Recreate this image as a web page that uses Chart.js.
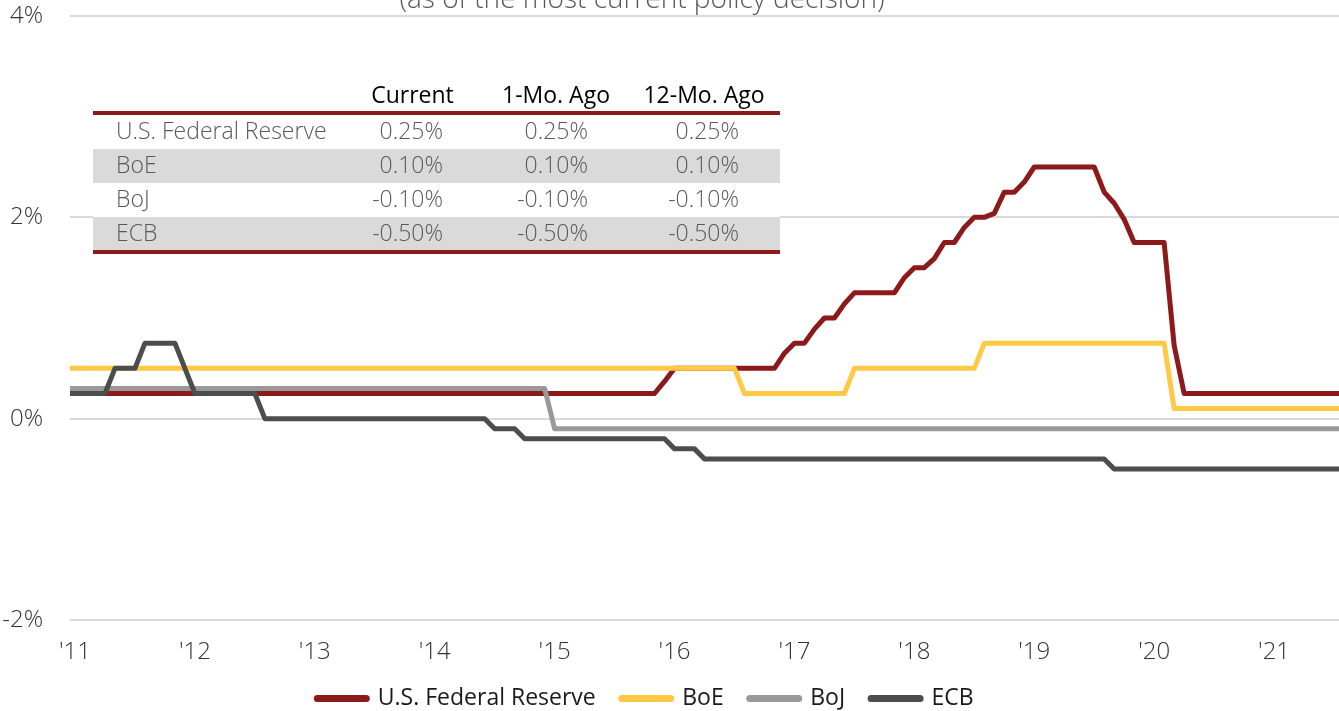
<!DOCTYPE html>
<html>
<head>
<meta charset="utf-8">
<script src="https://cdn.jsdelivr.net/npm/chart.js@4.4.1/dist/chart.umd.min.js"></script>
<style>
html,body{margin:0;padding:0;background:#fff;}
#wrap{position:relative;width:1339px;height:711px;overflow:hidden;font-family:"Open Sans",sans-serif;}
#c{position:absolute;left:0;top:0;}
#title{position:absolute;left:0;width:1284px;top:-20px;text-align:center;font-size:28px;line-height:34px;color:#595959;font-weight:300;white-space:nowrap;}
#tbl{position:absolute;left:93px;top:80px;width:687px;background:#fff;}
.r{display:grid;grid-template-columns:267px 105px 155px 160px;height:34px;align-items:center;font-size:23px;line-height:26px;color:#595959;font-weight:300;white-space:nowrap;}
.r > div{position:relative;top:-2px;}
.r.h{height:31px;color:#000;font-weight:400;align-items:end;}
.r.h > div{top:-4px;}
.r.g{background:#dadadb;}
.r.last{height:33px;}
.r .c0{padding-left:23px;}
.r .c1{text-align:right;padding-right:22px;}
.r .c2{text-align:right;padding-right:32px;}
.r .c3{text-align:right;padding-right:41px;}
.r.h .c1{text-align:center;padding-right:0;}
.r.h .c2{text-align:center;padding:0 0 0 27px;}
.r.h .c3{text-align:center;padding:0 0 0 8px;}
.rule{height:4px;background:#8c1a1a;}
</style>
</head>
<body>
<div id="wrap">
  <canvas id="c" width="1339" height="711"></canvas>
  <div id="title">(as of the most current policy decision)</div>
  <div id="tbl"></div>
</div>
<script>
// ---- Monthly categories (Dec 2010 .. Aug 2021) ----
const months = [
 '2010-12',
 '2011-01','2011-02','2011-03','2011-04','2011-05','2011-06','2011-07','2011-08','2011-09','2011-10','2011-11','2011-12',
 '2012-01','2012-02','2012-03','2012-04','2012-05','2012-06','2012-07','2012-08','2012-09','2012-10','2012-11','2012-12',
 '2013-01','2013-02','2013-03','2013-04','2013-05','2013-06','2013-07','2013-08','2013-09','2013-10','2013-11','2013-12',
 '2014-01','2014-02','2014-03','2014-04','2014-05','2014-06','2014-07','2014-08','2014-09','2014-10','2014-11','2014-12',
 '2015-01','2015-02','2015-03','2015-04','2015-05','2015-06','2015-07','2015-08','2015-09','2015-10','2015-11','2015-12',
 '2016-01','2016-02','2016-03','2016-04','2016-05','2016-06','2016-07','2016-08','2016-09','2016-10','2016-11','2016-12',
 '2017-01','2017-02','2017-03','2017-04','2017-05','2017-06','2017-07','2017-08','2017-09','2017-10','2017-11','2017-12',
 '2018-01','2018-02','2018-03','2018-04','2018-05','2018-06','2018-07','2018-08','2018-09','2018-10','2018-11','2018-12',
 '2019-01','2019-02','2019-03','2019-04','2019-05','2019-06','2019-07','2019-08','2019-09','2019-10','2019-11','2019-12',
 '2020-01','2020-02','2020-03','2020-04','2020-05','2020-06','2020-07','2020-08','2020-09','2020-10','2020-11','2020-12',
 '2021-01','2021-02','2021-03','2021-04','2021-05','2021-06','2021-07','2021-08'
];

// ---- Series values (%) ----
const fedRate = [
 0.25,
 0.25,0.25,0.25,0.25,0.25,0.25,0.25,0.25,0.25,0.25,0.25,0.25,
 0.25,0.25,0.25,0.25,0.25,0.25,0.25,0.25,0.25,0.25,0.25,0.25,
 0.25,0.25,0.25,0.25,0.25,0.25,0.25,0.25,0.25,0.25,0.25,0.25,
 0.25,0.25,0.25,0.25,0.25,0.25,0.25,0.25,0.25,0.25,0.25,0.25,
 0.25,0.25,0.25,0.25,0.25,0.25,0.25,0.25,0.25,0.25,0.25,0.37,
 0.50,0.50,0.50,0.50,0.50,0.50,0.50,0.50,0.50,0.50,0.50,0.65,
 0.75,0.75,0.89,1.00,1.00,1.14,1.25,1.25,1.25,1.25,1.25,1.40,
 1.50,1.50,1.59,1.75,1.75,1.90,2.00,2.00,2.04,2.25,2.25,2.35,
 2.50,2.50,2.50,2.50,2.50,2.50,2.50,2.25,2.14,1.98,1.75,1.75,
 1.75,1.75,0.73,0.25,0.25,0.25,0.25,0.25,0.25,0.25,0.25,0.25,
 0.25,0.25,0.25,0.25,0.25,0.25,0.25,0.25
];
const boeRate = [
 0.50,
 0.50,0.50,0.50,0.50,0.50,0.50,0.50,0.50,0.50,0.50,0.50,0.50,
 0.50,0.50,0.50,0.50,0.50,0.50,0.50,0.50,0.50,0.50,0.50,0.50,
 0.50,0.50,0.50,0.50,0.50,0.50,0.50,0.50,0.50,0.50,0.50,0.50,
 0.50,0.50,0.50,0.50,0.50,0.50,0.50,0.50,0.50,0.50,0.50,0.50,
 0.50,0.50,0.50,0.50,0.50,0.50,0.50,0.50,0.50,0.50,0.50,0.50,
 0.50,0.50,0.50,0.50,0.50,0.50,0.50,0.25,0.25,0.25,0.25,0.25,
 0.25,0.25,0.25,0.25,0.25,0.25,0.50,0.50,0.50,0.50,0.50,0.50,
 0.50,0.50,0.50,0.50,0.50,0.50,0.50,0.75,0.75,0.75,0.75,0.75,
 0.75,0.75,0.75,0.75,0.75,0.75,0.75,0.75,0.75,0.75,0.75,0.75,
 0.75,0.75,0.10,0.10,0.10,0.10,0.10,0.10,0.10,0.10,0.10,0.10,
 0.10,0.10,0.10,0.10,0.10,0.10,0.10,0.10
];
const bojRate = [
 0.30,
 0.30,0.30,0.30,0.30,0.30,0.30,0.30,0.30,0.30,0.30,0.30,0.30,
 0.30,0.30,0.30,0.30,0.30,0.30,0.30,0.30,0.30,0.30,0.30,0.30,
 0.30,0.30,0.30,0.30,0.30,0.30,0.30,0.30,0.30,0.30,0.30,0.30,
 0.30,0.30,0.30,0.30,0.30,0.30,0.30,0.30,0.30,0.30,0.30,0.30,
 -0.10,-0.10,-0.10,-0.10,-0.10,-0.10,-0.10,-0.10,-0.10,-0.10,-0.10,-0.10,
 -0.10,-0.10,-0.10,-0.10,-0.10,-0.10,-0.10,-0.10,-0.10,-0.10,-0.10,-0.10,
 -0.10,-0.10,-0.10,-0.10,-0.10,-0.10,-0.10,-0.10,-0.10,-0.10,-0.10,-0.10,
 -0.10,-0.10,-0.10,-0.10,-0.10,-0.10,-0.10,-0.10,-0.10,-0.10,-0.10,-0.10,
 -0.10,-0.10,-0.10,-0.10,-0.10,-0.10,-0.10,-0.10,-0.10,-0.10,-0.10,-0.10,
 -0.10,-0.10,-0.10,-0.10,-0.10,-0.10,-0.10,-0.10,-0.10,-0.10,-0.10,-0.10,
 -0.10,-0.10,-0.10,-0.10,-0.10,-0.10,-0.10,-0.10
];
const ecbRate = [
 0.25,
 0.25,0.25,0.25,0.25,0.50,0.50,0.50,0.75,0.75,0.75,0.75,0.50,
 0.25,0.25,0.25,0.25,0.25,0.25,0.25,0.00,0.00,0.00,0.00,0.00,
 0.00,0.00,0.00,0.00,0.00,0.00,0.00,0.00,0.00,0.00,0.00,0.00,
 0.00,0.00,0.00,0.00,0.00,0.00,-0.10,-0.10,-0.10,-0.20,-0.20,-0.20,
 -0.20,-0.20,-0.20,-0.20,-0.20,-0.20,-0.20,-0.20,-0.20,-0.20,-0.20,-0.20,
 -0.30,-0.30,-0.30,-0.40,-0.40,-0.40,-0.40,-0.40,-0.40,-0.40,-0.40,-0.40,
 -0.40,-0.40,-0.40,-0.40,-0.40,-0.40,-0.40,-0.40,-0.40,-0.40,-0.40,-0.40,
 -0.40,-0.40,-0.40,-0.40,-0.40,-0.40,-0.40,-0.40,-0.40,-0.40,-0.40,-0.40,
 -0.40,-0.40,-0.40,-0.40,-0.40,-0.40,-0.40,-0.40,-0.50,-0.50,-0.50,-0.50,
 -0.50,-0.50,-0.50,-0.50,-0.50,-0.50,-0.50,-0.50,-0.50,-0.50,-0.50,-0.50,
 -0.50,-0.50,-0.50,-0.50,-0.50,-0.50,-0.50,-0.50
];

// ---- Axis tick labels ----
const yearTickMonths = ['2011-01','2012-01','2013-01','2014-01','2015-01','2016-01','2017-01','2018-01','2019-01','2020-01','2021-01'];
const yearTickLabels = ["'11","'12","'13","'14","'15","'16","'17","'18","'19","'20","'21"];
const firstVisible = '2011-01';
const lastVisible = '2021-07';

// ---- Table ----
const tableHeaders = ['', 'Current', '1-Mo. Ago', '12-Mo. Ago'];
const tableBanks = ['U.S. Federal Reserve', 'BoE', 'BoJ', 'ECB'];
const tableCurrent = ['0.25%', '0.10%', '-0.10%', '-0.50%'];
const tableOneMo = ['0.25%', '0.10%', '-0.10%', '-0.50%'];
const tableTwelveMo = ['0.25%', '0.10%', '-0.10%', '-0.50%'];

const seriesNames = ['U.S. Federal Reserve', 'BoE', 'BoJ', 'ECB'];
const seriesColors = ['#8c1a1a', '#ffc845', '#999999', '#4d4d4d'];
const seriesValues = [fedRate, boeRate, bojRate, ecbRate];

// month string -> month index (Jan 2011 = 0)
function mIdx(s){ const [y,m] = s.split('-').map(Number); return (y-2011)*12 + (m-1); }

// build table
(function(){
  const t = document.getElementById('tbl');
  let html = '<div class="r h">' + tableHeaders.map((h,i)=>'<div class="c'+i+'">'+h+'</div>').join('') + '</div><div class="rule"></div>';
  tableBanks.forEach((b,i)=>{
    const cls = 'r' + (i%2===1?' g':'') + (i===tableBanks.length-1?' last':'');
    html += '<div class="'+cls+'"><div class="c0">'+b+'</div><div class="c1">'+tableCurrent[i]+'</div><div class="c2">'+tableOneMo[i]+'</div><div class="c3">'+tableTwelveMo[i]+'</div></div>';
  });
  html += '<div class="rule"></div>';
  t.innerHTML = html;
})();

Chart.defaults.font.family = "'Open Sans', sans-serif";

const legendShift = {
  id: 'legendShift',
  afterLayout(chart){
    const lg = chart.legend;
    if (lg){ lg.left -= 24; lg.right -= 24; lg.top -= 5; }
  }
};

const datasets = seriesNames.map((name, k) => ({
  label: name,
  data: seriesValues[k].map((v, i) => ({x: mIdx(months[i]), y: v})),
  borderColor: seriesColors[k],
  backgroundColor: seriesColors[k],
  borderWidth: 5,
  pointRadius: 0,
  tension: 0,
  borderJoinStyle: 'round',
  order: 4 - k,
  clip: 0
}));

new Chart(document.getElementById('c'), {
  type: 'line',
  data: { datasets },
  plugins: [legendShift],
  options: {
    responsive: false,
    animation: false,
    events: [],
    layout: { padding: { top: 16, left: 0, right: 0, bottom: 0 } },
    scales: {
      x: {
        type: 'linear',
        min: mIdx(firstVisible) - 0.5,
        max: mIdx(lastVisible) + 0.5,
        grid: { display: false },
        border: { display: false },
        afterBuildTicks: (s) => { s.ticks = yearTickMonths.map(m => ({ value: mIdx(m) })); },
        afterFit: (s) => { s.height = 46; },
        ticks: {
          autoSkip: false, maxRotation: 0, padding: 10,
          color: '#333333',
          font: { size: 24, weight: 300 },
          callback: (v) => yearTickLabels[yearTickMonths.map(mIdx).indexOf(v)]
        }
      },
      y: {
        min: -2, max: 4,
        grid: { color: '#d9d9d9', lineWidth: 2, drawTicks: false },
        border: { display: false },
        afterFit: (s) => { s.width = 70; s.paddingTop = 10; s.paddingBottom = 10; },
        ticks: {
          stepSize: 2, padding: 27, color: '#333333',
          font: { size: 24, weight: 300 },
          callback: (v) => v + '%'
        }
      }
    },
    plugins: {
      tooltip: { enabled: false },
      legend: {
        position: 'bottom',
        maxHeight: 45,
        labels: {
          usePointStyle: true,
          pointStyle: 'line',
          pointStyleWidth: 49,
          padding: 26,
          color: '#1a1a1a',
          font: { size: 23, weight: 400 },
          sort: (a, b) => a.datasetIndex - b.datasetIndex,
          generateLabels: (chart) => Chart.defaults.plugins.legend.labels.generateLabels(chart)
            .map(l => Object.assign(l, { lineWidth: 7, lineCap: 'round' }))
        }
      }
    }
  }
});
</script>
</body>
</html>
